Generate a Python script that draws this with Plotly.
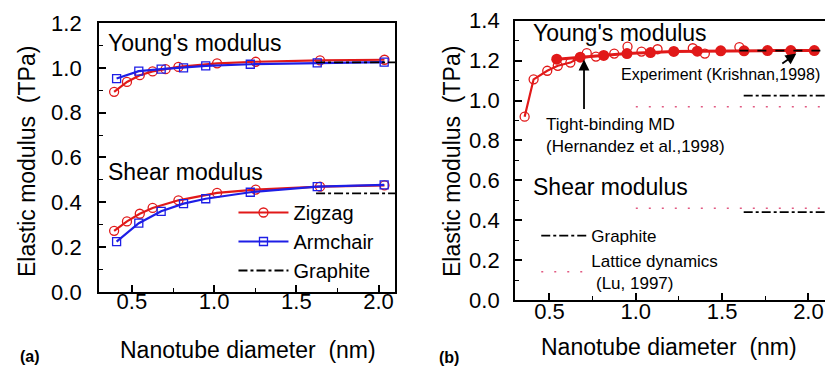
import plotly.graph_objects as go

# ---------------- data: panel (a) ----------------
zz_d = [0.392, 0.470, 0.548, 0.626, 0.705, 0.783, 1.018, 1.253, 1.644, 2.036]
zz_young = [0.893, 0.937, 0.967, 0.984, 0.994, 1.004, 1.020, 1.027, 1.033, 1.036]
zz_shear_d = [0.392, 0.470, 0.548, 0.626, 0.783, 1.018, 1.253, 1.644, 2.036]
zz_shear = [0.273, 0.315, 0.349, 0.375, 0.409, 0.442, 0.457, 0.470, 0.476]

ac_d = [0.407, 0.542, 0.678, 0.814, 0.949, 1.220, 1.627, 2.034]
ac_young = [0.952, 0.985, 0.994, 1.000, 1.009, 1.016, 1.022, 1.025]
ac_shear = [0.225, 0.307, 0.360, 0.394, 0.416, 0.445, 0.470, 0.478]

graphite_x = [1.62, 2.1]
graphite_young = 1.024
graphite_shear = 0.440

# ---------------- data: panel (b) ----------------
small_d = [0.356, 0.408, 0.487, 0.548, 0.621, 0.678]
small_E = [0.919, 1.106, 1.149, 1.174, 1.190, 1.217]
small_open = [True, True, True, True, True, False]

filled_d = [0.542, 0.678, 0.814, 0.949, 1.085, 1.220, 1.356, 1.492, 1.627, 1.763, 1.898, 2.034]
filled_E = [1.207, 1.217, 1.226, 1.235, 1.240, 1.246, 1.247, 1.249, 1.249, 1.250, 1.250, 1.250]

tb_d = [0.716, 0.769, 0.875, 0.952, 1.033, 1.126, 1.330, 1.400, 1.600]
tb_E = [1.237, 1.220, 1.235, 1.270, 1.245, 1.257, 1.262, 1.235, 1.268]

exp_x = [1.60, 2.1]
exp_E = 1.25
b_graphite_x = [1.625, 2.1]
b_graphite_young = 1.024
b_graphite_shear = 0.440
lattice_x = [1.0, 2.1]
lattice_young = 0.969
lattice_shear = 0.460

RED = "rgb(225,25,25)"
BLUE = "rgb(30,30,230)"
PINK = "rgb(225,90,130)"
FONT = "Liberation Sans, Arial, sans-serif"

fig = go.Figure()

# panel (a)
fig.add_trace(go.Scatter(x=zz_d, y=zz_young, mode="lines+markers", name="Zigzag",
                         line=dict(color=RED, width=2.2),
                         marker=dict(symbol="circle-open", size=9, color=RED, line=dict(width=1.3)),
                         xaxis="x", yaxis="y", legend="legend"))
fig.add_trace(go.Scatter(x=ac_d, y=ac_young, mode="lines+markers", name="Armchair",
                         line=dict(color=BLUE, width=2.2),
                         marker=dict(symbol="square-open", size=8, color=BLUE, line=dict(width=1.3)),
                         xaxis="x", yaxis="y", legend="legend"))
fig.add_trace(go.Scatter(x=graphite_x + [None] + graphite_x,
                         y=[graphite_young] * 2 + [None] + [graphite_shear] * 2,
                         mode="lines", name="Graphite",
                         line=dict(color="black", width=1.8, dash="dashdot"),
                         xaxis="x", yaxis="y", legend="legend"))
fig.add_trace(go.Scatter(x=zz_shear_d, y=zz_shear, mode="lines+markers", showlegend=False,
                         line=dict(color=RED, width=2.2),
                         marker=dict(symbol="circle-open", size=9, color=RED, line=dict(width=1.3)),
                         xaxis="x", yaxis="y"))
fig.add_trace(go.Scatter(x=ac_d, y=ac_shear, mode="lines+markers", showlegend=False,
                         line=dict(color=BLUE, width=2.2),
                         marker=dict(symbol="square-open", size=8, color=BLUE, line=dict(width=1.3)),
                         xaxis="x", yaxis="y"))

# panel (b)
fig.add_trace(go.Scatter(x=b_graphite_x + [None] + b_graphite_x,
                         y=[b_graphite_young] * 2 + [None] + [b_graphite_shear] * 2,
                         mode="lines", name="Graphite",
                         line=dict(color="black", width=1.8, dash="dashdot"),
                         xaxis="x2", yaxis="y2", legend="legend2"))
fig.add_trace(go.Scatter(x=lattice_x + [None] + lattice_x,
                         y=[lattice_young] * 2 + [None] + [lattice_shear] * 2,
                         mode="lines", name="Lattice dynamics<br> (Lu, 1997)",
                         line=dict(color=PINK, width=1.5, dash="2px,11px"),
                         xaxis="x2", yaxis="y2", legend="legend2"))
fig.add_trace(go.Scatter(x=tb_d, y=tb_E, mode="markers", showlegend=False,
                         marker=dict(symbol="circle-open", size=9, color=RED, line=dict(width=1.3)),
                         xaxis="x2", yaxis="y2"))
fig.add_trace(go.Scatter(x=small_d, y=small_E, mode="lines", showlegend=False,
                         line=dict(color=RED, width=2.2),
                         xaxis="x2", yaxis="y2"))
fig.add_trace(go.Scatter(x=[d for d, o in zip(small_d, small_open) if o],
                         y=[e for e, o in zip(small_E, small_open) if o],
                         mode="markers", showlegend=False,
                         marker=dict(symbol="circle-open", size=9, color=RED, line=dict(width=1.3)),
                         xaxis="x2", yaxis="y2"))
fig.add_trace(go.Scatter(x=filled_d, y=filled_E, mode="lines+markers", showlegend=False,
                         line=dict(color=RED, width=3),
                         marker=dict(symbol="circle", size=11, color=RED),
                         xaxis="x2", yaxis="y2"))
fig.add_trace(go.Scatter(x=exp_x, y=[exp_E] * 2, mode="lines", showlegend=False,
                         line=dict(color="black", width=1.8, dash="dash"),
                         xaxis="x2", yaxis="y2"))

axis_common = dict(showline=True, linecolor="black", linewidth=1.8, ticks="inside",
                   ticklen=7, tickwidth=1.6, tickcolor="black", showgrid=False, zeroline=False,
                   automargin=False,
                   tickfont=dict(family=FONT, size=22, color="black"),
                   minor=dict(ticks="inside", ticklen=4, tickwidth=1.4, tickcolor="black"))

fig.update_layout(
    template="none",
    width=825, height=369, margin=dict(l=0, r=0, t=0, b=0, pad=0), autosize=False,
    paper_bgcolor="white", plot_bgcolor="white",
    font=dict(family=FONT, color="black"),
    xaxis=dict(domain=[0.12, 0.4788], range=[0.3, 2.1], tickvals=[0.5, 1.0, 1.5, 2.0],
               ticktext=["0.5", "1.0", "1.5", "2.0"], minor_dtick=0.25, mirror=True,
               ticklabelstandoff=-11, anchor="y", **axis_common),
    yaxis=dict(domain=[0.2087, 0.9377], range=[0, 1.2], dtick=0.2, tickformat=".1f",
               minor_dtick=0.1, mirror=True, ticklabelstandoff=11, anchor="x", **axis_common),
    xaxis2=dict(domain=[0.6242, 1.0], range=[0.3, 2.096], tickvals=[0.5, 1.0, 1.5, 2.0],
                ticktext=["0.5", "1.0", "1.5", "2.0"], minor_dtick=0.25, mirror=True,
                ticklabelstandoff=-9, anchor="y2", **axis_common),
    yaxis2=dict(domain=[0.187, 0.9439], range=[0, 1.4], dtick=0.2, tickformat=".1f",
                minor_dtick=0.1, mirror=False, ticklabelstandoff=9, anchor="x2", **axis_common),
    legend=dict(x=0.283, y=1 - 193 / 369, xanchor="left", yanchor="top", bgcolor="rgba(0,0,0,0)",
                font=dict(family=FONT, size=20, color="black"), tracegroupgap=0,
                itemwidth=50, traceorder="normal", borderwidth=0),
    legend2=dict(x=0.650, y=1 - 218 / 369, xanchor="left", yanchor="top", bgcolor="rgba(0,0,0,0)",
                 font=dict(family=FONT, size=17, color="black"), tracegroupgap=0,
                 itemwidth=45, traceorder="normal", borderwidth=0),
)

ann = []
def txt(text, x, y, xref, yref, size, xanchor="left"):
    ann.append(dict(text=text, x=x, y=y, xref=xref, yref=yref,
                    showarrow=False, xanchor=xanchor, yanchor="middle",
                    font=dict(family=FONT, size=size, color="black")))

# panel (a) labels
txt("Young's modulus", 0.34, 1.11, "x", "y", 23)
txt("Shear modulus", 0.34, 0.535, "x", "y", 23)
txt("Nanotube diameter  (nm)", 248 / 825, 1 - 350 / 369, "paper", "paper", 23, xanchor="center")
txt("<b>(a)</b>", 18 / 825, 1 - 356 / 369, "paper", "paper", 16)
ann.append(dict(text="Elastic modulus  (TPa)", x=27 / 825, y=1 - 162 / 369, xref="paper",
                yref="paper", showarrow=False, textangle=-90, xanchor="center", yanchor="middle",
                font=dict(family=FONT, size=23, color="black")))

# panel (b) labels
txt("Young's modulus", 0.39, 1.34, "x2", "y2", 23)
txt("Shear modulus", 0.39, 0.565, "x2", "y2", 23)
txt("Nanotube diameter  (nm)", 669 / 825, 1 - 347 / 369, "paper", "paper", 23, xanchor="center")
txt("<b>(b)</b>", 437 / 825, 1 - 357 / 369, "paper", "paper", 16)
ann.append(dict(text="Elastic modulus  (TPa)", x=452 / 825, y=1 - 162 / 369, xref="paper",
                yref="paper", showarrow=False, textangle=-90, xanchor="center", yanchor="middle",
                font=dict(family=FONT, size=23, color="black")))
txt("Experiment (Krishnan,1998)", 0.905, 1.13, "x2", "y2", 16)
txt("Tight-binding MD", 0.47, 0.88, "x2", "y2", 17)
txt("(Hernandez et al.,1998)", 0.47, 0.77, "x2", "y2", 17)

# arrows
ann.append(dict(x=0.70, y=1.205, xref="x2", yref="y2", ax=0.70, ay=0.95, axref="x2", ayref="y2",
                showarrow=True, arrowhead=2, arrowsize=1.2, arrowwidth=1.8, arrowcolor="black", text=""))
ann.append(dict(x=1.93, y=1.235, xref="x2", yref="y2", ax=1.84, ay=1.18, axref="x2", ayref="y2",
                showarrow=True, arrowhead=2, arrowsize=1.2, arrowwidth=1.8, arrowcolor="black", text=""))

fig.update_layout(annotations=ann)
fig.write_html("out.html")
